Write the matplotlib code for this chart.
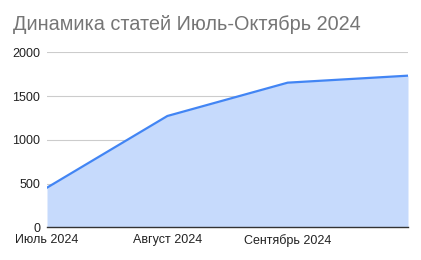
import matplotlib
matplotlib.use("Agg")
import matplotlib.pyplot as plt

months = ["Июль 2024", "Август 2024", "Сентябрь 2024", "Октябрь 2024"]
articles = [453, 1272, 1653, 1733]
y_ticks = [0, 500, 1000, 1500, 2000]

plt.rcParams['font.family'] = ['Liberation Sans', 'DejaVu Sans']

fig = plt.figure(figsize=(4.21, 2.60), dpi=100)
ax = fig.add_axes([47 / 421, 1 - 227.3 / 260, (408 - 47) / 421, (227.3 - 52.3) / 260])

x = list(range(len(months)))
ax.fill_between(x, articles, 0, color='#c6dafc', linewidth=0, zorder=2)
ax.plot(x, articles, color='#4285f4', linewidth=1.6, zorder=3)

ax.set_xlim(0, len(months) - 1)
ax.set_ylim(0, 2000)
ax.set_yticks(y_ticks)
ax.set_yticklabels([str(v) for v in y_ticks], fontsize=9, color='#222222')
# last month label is dropped in the original
ax.set_xticks(x[:3])
ax.set_xticklabels(months[:3], fontsize=9, color='#222222')
ax.tick_params(length=0)
ax.tick_params(axis='x', pad=5)
ax.tick_params(axis='y', pad=5)
ax.grid(axis='y', color='#cccccc', linewidth=0.8, zorder=1)
for s in ['left', 'right', 'top']:
    ax.spines[s].set_visible(False)
ax.spines['bottom'].set_color('#333333')
ax.spines['bottom'].set_linewidth(1.0)
ax.spines['bottom'].set_zorder(4)

fig.text(13 / 421, 1 - 25 / 260, "Динамика статей Июль-Октябрь 2024",
         fontsize=14.3, color='#757575', va='center', ha='left')

fig.savefig('out.png', dpi=100)
